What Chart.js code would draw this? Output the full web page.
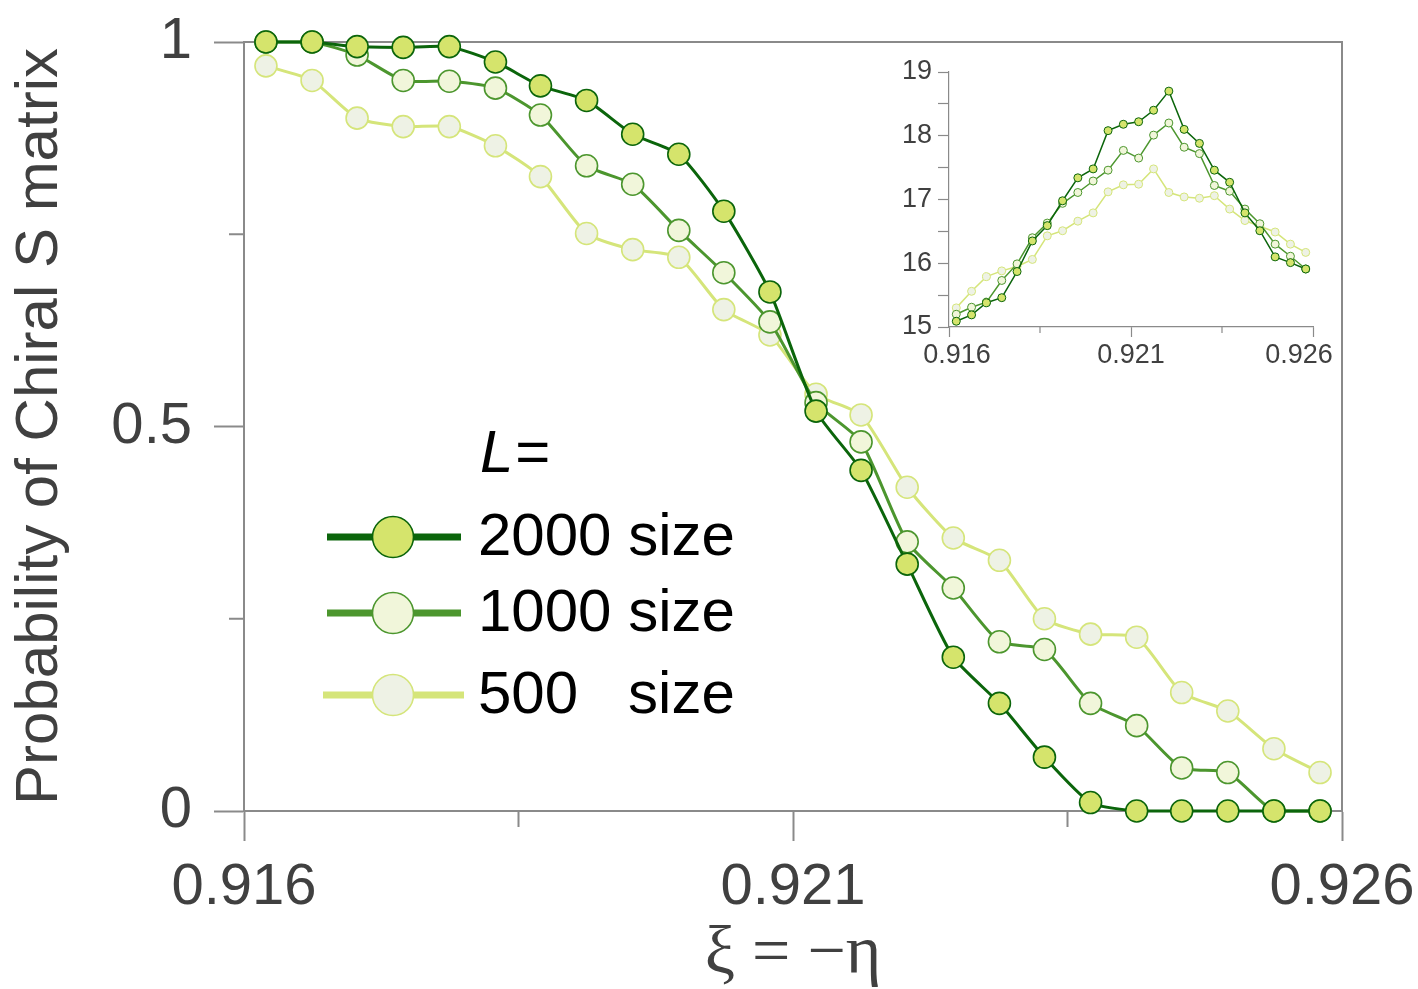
<!DOCTYPE html>
<html><head><meta charset="utf-8">
<script src="https://cdn.jsdelivr.net/npm/chart.js@4.4.1/dist/chart.umd.min.js"></script>
<style>
html,body{margin:0;padding:0;background:#fff;}
#wrap{position:relative;width:1418px;height:989px;background:#fff;}
#main{position:absolute;left:0;top:0;width:1418px;height:989px;}
#inset{position:absolute;left:860px;top:40px;width:500px;height:350px;}
</style></head><body>
<div id="wrap"><canvas id="main" width="1418" height="989"></canvas><canvas id="inset" width="500" height="350"></canvas></div>
<script>
// ---------- data ----------
const xValues = [0.91620, 0.91662, 0.91703, 0.91745, 0.91787, 0.91829, 0.91870, 0.91912,
                 0.91954, 0.91996, 0.92037, 0.92079, 0.92121, 0.92162, 0.92204, 0.92246,
                 0.92288, 0.92329, 0.92371, 0.92413, 0.92454, 0.92496, 0.92538, 0.92580];
const seriesNames = ['2000 size', '1000 size', '500   size'];
const prob2000 = [1.000, 1.000, 0.994, 0.993, 0.994, 0.974, 0.943, 0.924, 0.880, 0.854, 0.780, 0.675,
                  0.520, 0.443, 0.321, 0.200, 0.140, 0.070, 0.011, 0.000, 0.000, 0.000, 0.000, 0.000];
const prob1000 = [1.000, 1.000, 0.983, 0.950, 0.949, 0.940, 0.905, 0.839, 0.815, 0.755, 0.700, 0.636,
                  0.531, 0.480, 0.350, 0.290, 0.220, 0.210, 0.140, 0.111, 0.056, 0.050, 0.000, 0.000];
const prob500  = [0.969, 0.950, 0.901, 0.890, 0.890, 0.865, 0.825, 0.751, 0.730, 0.720, 0.652, 0.619,
                  0.542, 0.515, 0.421, 0.355, 0.326, 0.250, 0.230, 0.226, 0.154, 0.130, 0.081, 0.050];
const inset2000 = [15.09, 15.19, 15.38, 15.46, 15.87, 16.35, 16.59, 16.98, 17.34, 17.48, 18.08, 18.18,
                   18.22, 18.40, 18.70, 18.10, 17.88, 17.46, 17.27, 16.79, 16.51, 16.10, 16.01, 15.91];
const inset1000 = [15.20, 15.31, 15.39, 15.73, 15.99, 16.40, 16.63, 16.94, 17.11, 17.29, 17.46, 17.77,
                   17.65, 18.01, 18.20, 17.82, 17.72, 17.22, 17.13, 16.85, 16.62, 16.30, 16.11, 15.91];
const inset500  = [15.30, 15.56, 15.79, 15.88, 15.95, 16.06, 16.43, 16.51, 16.66, 16.79, 17.12, 17.23,
                   17.24, 17.48, 17.11, 17.04, 17.02, 17.06, 16.85, 16.67, 16.58, 16.49, 16.30, 16.17];
const xTickValues = [0.916, 0.9185, 0.921, 0.9235, 0.926];
const xMajorTicks = [0.916, 0.921, 0.926];
const yTickValues = [0, 0.25, 0.5, 0.75, 1];
const yMajorTicks = [0, 0.5, 1];
const insetYTicks = [15, 15.5, 16, 16.5, 17, 17.5, 18, 18.5, 19];
const insetYMajor = [15, 16, 17, 18, 19];
const xTitle = 'ξ = −η';
const yTitle = 'Probability of Chiral S matrix';
const legendTitle = 'L';

// ---------- styles ----------
const AXIS = '#8a8a8a', TXT = '#404040';
const styles = [
  {line:'#0b650b', fill:'#d5e46c', border:'#0b650b'},
  {line:'#4c962e', fill:'#f1f6da', border:'#4c962e'},
  {line:'#d5e57a', fill:'#eef2e5', border:'#d5e57a'}
];
const insetLabelShift = [8, 0, -14];
Chart.defaults.font.family = "'Liberation Sans', Arial, sans-serif";
const near = (arr, v) => arr.some(t => Math.abs(t - v) < 1e-7);
const pts = arr => arr.map((y, i) => ({x: xValues[i], y}));
const noPad = s => { s.paddingTop = 0; s.paddingBottom = 0; s.paddingLeft = 0; s.paddingRight = 0; };

function ds(label, arr, st, big) {
  return {
    label, data: pts(arr), borderColor: st.line, backgroundColor: st.fill,
    pointBackgroundColor: st.fill, pointBorderColor: st.border,
    borderWidth: big ? 3 : 1.5, pointRadius: big ? 11 : 4, pointBorderWidth: big ? 1.6 : 1,
    tension: big ? 0.2 : 0, clip: false
  };
}

const framePlugin = {
  id: 'frame',
  beforeDatasetsDraw(chart) {
    const {ctx, chartArea: a, scales: {x, y}} = chart;
    ctx.save();
    ctx.strokeStyle = AXIS; ctx.lineWidth = 2;
    ctx.beginPath();
    ctx.moveTo(a.left, a.top); ctx.lineTo(a.right, a.top); ctx.lineTo(a.right, a.bottom);
    xTickValues.filter(v => !near(xMajorTicks, v)).forEach(v => {
      const px = x.getPixelForValue(v); ctx.moveTo(px, a.bottom); ctx.lineTo(px, a.bottom + 16);
    });
    yTickValues.filter(v => !near(yMajorTicks, v)).forEach(v => {
      const py = y.getPixelForValue(v); ctx.moveTo(a.left - 15, py); ctx.lineTo(a.left, py);
    });
    ctx.stroke();
    ctx.restore();
  }
};

const legendPlugin = {
  id: 'customLegend',
  afterDraw(chart) {
    const ctx = chart.ctx;
    ctx.save();
    ctx.textBaseline = 'middle';
    ctx.fillStyle = '#000';
    ctx.font = "italic 60px 'Liberation Sans', Arial, sans-serif";
    ctx.fillText(legendTitle, 480, 455);
    const w = ctx.measureText(legendTitle).width;
    ctx.font = "60px 'Liberation Sans', Arial, sans-serif";
    ctx.fillText('=', 480 + w + 2, 455);
    const rows = [{y:537, x1:327, x2:461}, {y:613, x1:327, x2:461}, {y:695, x1:323, x2:464}];
    chart.data.datasets.forEach((d, i) => {
      const r = rows[i];
      ctx.strokeStyle = d.borderColor; ctx.lineWidth = 7;
      ctx.beginPath(); ctx.moveTo(r.x1, r.y); ctx.lineTo(r.x2, r.y); ctx.stroke();
      ctx.beginPath(); ctx.arc(393, r.y, 20.5, 0, Math.PI * 2);
      ctx.fillStyle = d.pointBackgroundColor; ctx.fill();
      ctx.lineWidth = 1.6; ctx.strokeStyle = d.pointBorderColor; ctx.stroke();
      ctx.fillStyle = '#000';
      ctx.fillText(d.label, 478, r.y + 1);
    });
    ctx.restore();
  }
};

new Chart(document.getElementById('main'), {
  type: 'line',
  data: {datasets: [
    ds(seriesNames[0], prob2000, styles[0], true),
    ds(seriesNames[1], prob1000, styles[1], true),
    ds(seriesNames[2], prob500, styles[2], true)
  ]},
  options: {
    responsive: false, animation: false, devicePixelRatio: 1,
    layout: {padding: {top: 42, right: 76, left: 0, bottom: 0}},
    plugins: {legend: {display: false}, tooltip: {enabled: false}},
    scales: {
      x: {
        type: 'linear', min: 0.916, max: 0.926,
        afterBuildTicks: s => { s.ticks = xTickValues.map(v => ({value: v})); },
        afterFit: s => { s.height = 178; noPad(s); },
        grid: {drawOnChartArea: false, tickLength: 30, tickWidth: 2,
               tickColor: c => near(xMajorTicks, c.tick.value) ? AXIS : 'rgba(0,0,0,0)'},
        border: {color: AXIS, width: 2},
        ticks: {font: {size: 58}, color: TXT, padding: 12, maxRotation: 0, autoSkip: false,
                callback: v => near(xMajorTicks, v) ? v.toFixed(3) : ''},
        title: {display: true, text: xTitle, color: TXT,
                font: {family: "'Liberation Serif', 'Times New Roman', serif", size: 68, lineHeight: 1},
                padding: {top: 0, bottom: 0}}
      },
      y: {
        min: 0, max: 1,
        afterBuildTicks: s => { s.ticks = yTickValues.map(v => ({value: v})); },
        afterFit: s => { s.width = 244; noPad(s); },
        grid: {drawOnChartArea: false, tickLength: 30, tickWidth: 2,
               tickColor: c => near(yMajorTicks, c.tick.value) ? AXIS : 'rgba(0,0,0,0)'},
        border: {color: AXIS, width: 2},
        ticks: {font: {size: 58}, color: TXT, padding: 22, autoSkip: false,
                callback: v => near(yMajorTicks, v) ? String(v) : ''},
        title: {display: true, text: yTitle, color: TXT, font: {size: 60, lineHeight: 1.2},
                padding: {top: 4, bottom: 0}}
      }
    }
  },
  plugins: [framePlugin, legendPlugin]
});

const insetFrame = {
  id: 'insetFrame',
  beforeDatasetsDraw(chart) {
    const {ctx, chartArea: a, scales: {x}} = chart;
    ctx.save();
    ctx.strokeStyle = AXIS; ctx.lineWidth = 1.2;
    ctx.beginPath();
    xTickValues.filter(v => !near(xMajorTicks, v)).forEach(v => {
      const px = x.getPixelForValue(v); ctx.moveTo(px, a.bottom); ctx.lineTo(px, a.bottom + 6);
    });
    ctx.stroke();
    // x tick labels (end labels pulled inward as in the reference)
    ctx.fillStyle = TXT;
    ctx.font = "27px 'Liberation Sans', Arial, sans-serif";
    ctx.textAlign = 'center'; ctx.textBaseline = 'middle';
    xMajorTicks.forEach((v, i) => {
      ctx.fillText(v.toFixed(3), x.getPixelForValue(v) + insetLabelShift[i], a.bottom + 29);
    });
    ctx.restore();
  }
};

new Chart(document.getElementById('inset'), {
  type: 'line',
  data: {datasets: [
    ds(seriesNames[0], inset2000, styles[0], false),
    ds(seriesNames[1], inset1000, styles[1], false),
    ds(seriesNames[2], inset500, styles[2], false)
  ]},
  options: {
    responsive: false, animation: false, devicePixelRatio: 1,
    layout: {padding: {top: 32, right: 47, left: 0, bottom: 0}},
    plugins: {legend: {display: false}, tooltip: {enabled: false}},
    scales: {
      x: {
        type: 'linear', min: 0.916, max: 0.926,
        afterBuildTicks: s => { s.ticks = xTickValues.map(v => ({value: v})); },
        afterFit: s => { s.height = 63; noPad(s); },
        grid: {drawOnChartArea: false, tickLength: 10, tickWidth: 1.2,
               tickColor: c => near(xMajorTicks, c.tick.value) ? AXIS : 'rgba(0,0,0,0)'},
        border: {color: AXIS, width: 1.2},
        ticks: {font: {size: 27}, color: TXT, padding: 2, maxRotation: 0, autoSkip: false,
                callback: () => ''}
      },
      y: {
        min: 15, max: 19,
        afterBuildTicks: s => { s.ticks = insetYTicks.map(v => ({value: v})); },
        afterFit: s => { s.width = 89; noPad(s); },
        grid: {drawOnChartArea: false, tickLength: 11, tickWidth: 1.2, tickColor: AXIS},
        border: {color: AXIS, width: 1.2},
        ticks: {font: {size: 27}, color: TXT, padding: 6, autoSkip: false,
                callback: v => near(insetYMajor, v) ? String(v) : ''}
      }
    }
  },
  plugins: [insetFrame]
});
</script>
</body></html>
